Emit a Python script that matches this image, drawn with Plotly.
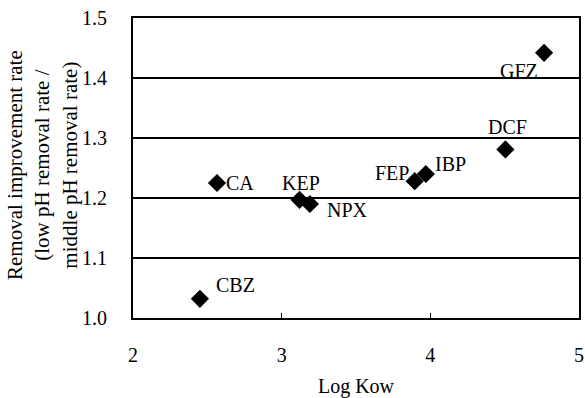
import plotly.graph_objects as go

# Data
compounds = ["CBZ", "CA", "KEP", "NPX", "FEP", "IBP", "DCF", "GFZ"]
log_kow = [2.45, 2.565, 3.12, 3.19, 3.895, 3.97, 4.505, 4.765]
improvement_rate = [1.032, 1.225, 1.197, 1.190, 1.228, 1.240, 1.281, 1.442]

x_ticks = [2, 3, 4, 5]
y_ticks = [1.0, 1.1, 1.2, 1.3, 1.4, 1.5]
y_title = "Removal improvement rate<br>(low pH removal rate /<br>middle pH removal rate)"
x_title = "Log Kow"

# Label offsets (style: pixel shifts of each text label from its marker)
label_shift = {
    "CBZ": (36, 14), "CA": (23, 0), "KEP": (1, 17), "NPX": (38, -6),
    "FEP": (-23, 8), "IBP": (25, 10), "DCF": (2, 22), "GFZ": (-25, -18),
}

FONT = "Liberation Serif"

fig = go.Figure()
fig.add_trace(go.Scatter(
    x=log_kow, y=improvement_rate, mode="markers",
    marker=dict(symbol="diamond", size=14, color="black"),
    showlegend=False, hoverinfo="x+y",
))

for name, xv, yv in zip(compounds, log_kow, improvement_rate):
    dx, dy = label_shift[name]
    fig.add_annotation(x=xv, y=yv, xref="x", yref="y", text=name,
                       showarrow=False, xshift=dx, yshift=dy,
                       font=dict(family=FONT, size=20, color="black"))

# Y-axis title as rotated annotation
fig.add_annotation(x=0, y=0.51, xref="paper", yref="paper", text=y_title,
                   showarrow=False, textangle=-90, xanchor="center", yanchor="middle",
                   xshift=-91, align="center",
                   font=dict(family=FONT, size=21, color="black"))

fig.update_layout(
    width=585, height=398,
    margin=dict(l=133, r=6, t=18, b=80, autoexpand=False),
    paper_bgcolor="white", plot_bgcolor="white",
    font=dict(family=FONT, size=20, color="black"),
)
fig.update_xaxes(
    range=[2, 5], tickvals=x_ticks, ticktext=[str(v) for v in x_ticks],
    showgrid=False, zeroline=False, automargin=True,
    showline=True, linecolor="black", linewidth=2, mirror=True,
    ticks="inside", ticklen=5, tickwidth=1, tickcolor="black",
    ticklabelstandoff=18,
    title=dict(text=x_title, font=dict(family=FONT, size=20), standoff=16),
)
fig.update_yaxes(
    range=[1.0, 1.5], tickvals=y_ticks, ticktext=[f"{v:.1f}" for v in y_ticks],
    showgrid=True, gridcolor="black", gridwidth=2, zeroline=False, automargin=True,
    showline=True, linecolor="black", linewidth=2, mirror=True,
    ticks="", ticklabelstandoff=20,
)

fig.write_html("out.html")
